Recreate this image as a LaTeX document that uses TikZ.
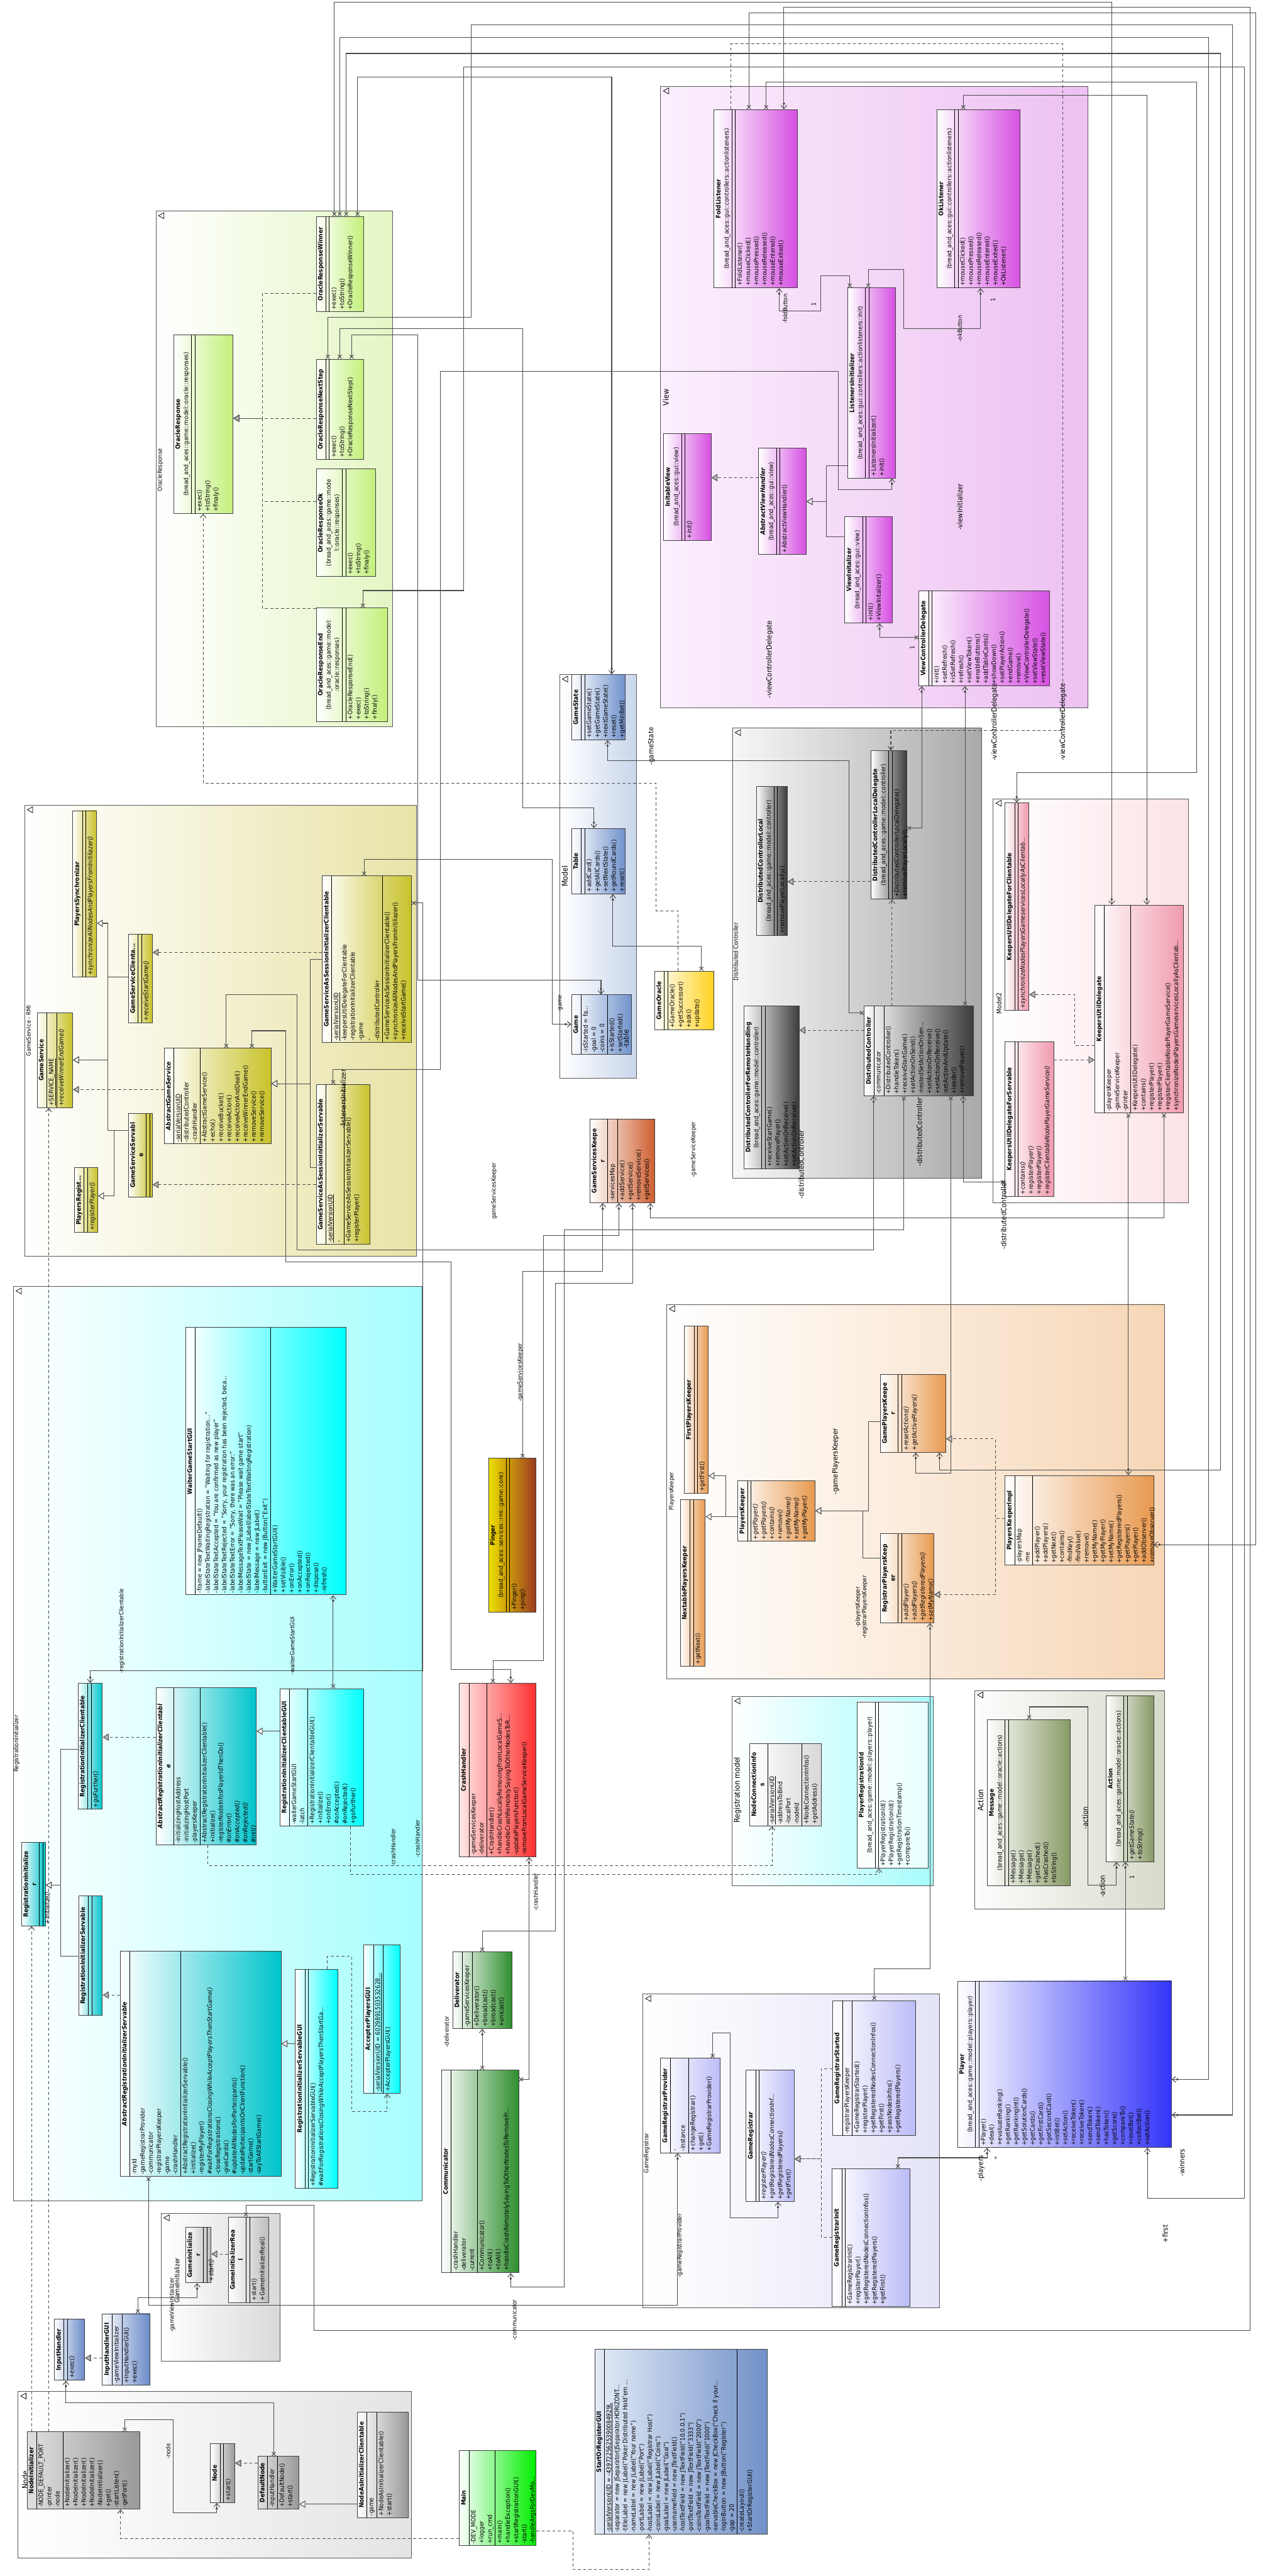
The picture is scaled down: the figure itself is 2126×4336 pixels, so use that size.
\documentclass[tikz,border=0pt]{standalone}
\usepackage{fontspec}
\setmainfont{DejaVu Sans}[FakeStretch=0.9]
\usepackage{graphicx}
\usetikzlibrary{arrows.meta}

\definecolor{orgreen}{HTML}{C2F07A}
\definecolor{orpkg}{HTML}{E4F6C4}
\definecolor{viewmag}{HTML}{D650E2}
\definecolor{viewpkgL}{HTML}{FBEFFD}
\definecolor{viewpkgR}{HTML}{EDC1F2}
\definecolor{modelblue}{HTML}{7092CC}
\definecolor{modelpkg}{HTML}{C9D6EB}
\definecolor{gsolive}{HTML}{C8C22A}
\definecolor{gspkg}{HTML}{E8E3A6}
\definecolor{dcdark}{HTML}{3C3C3C}
\definecolor{dcpkg}{HTML}{A9A9A9}
\definecolor{m2pink}{HTML}{F09AAD}
\definecolor{m2pkg}{HTML}{FCE2E6}
\definecolor{riteal}{HTML}{00C4CC}
\definecolor{ricyan}{HTML}{00FFFF}
\definecolor{ripkg}{HTML}{A6FEFE}
\definecolor{pkorange}{HTML}{E8994F}
\definecolor{pkpkg}{HTML}{F6D6B6}
\definecolor{rmpkg}{HTML}{A6FCFC}
\definecolor{rmgray}{HTML}{D8D8D8}
\definecolor{rmlight}{HTML}{E6FFFF}
\definecolor{actolive}{HTML}{889A66}
\definecolor{actpkg}{HTML}{D6DACA}
\definecolor{grlav}{HTML}{BCBCF8}
\definecolor{grpkg}{HTML}{E4E4F8}
\definecolor{plblue}{HTML}{3434FA}
\definecolor{gipkg}{HTML}{D9D9D9}
\definecolor{gigray}{HTML}{BDBDBD}
\definecolor{nodegray}{HTML}{999999}
\definecolor{nodepkg}{HTML}{E4E4E4}
\definecolor{maingreen}{HTML}{00EE00}
\definecolor{sorblue}{HTML}{7191C8}
\definecolor{sorlight}{HTML}{E4EBF7}
\definecolor{comgreen}{HTML}{2E8E2E}
\definecolor{crashred}{HTML}{FF3030}
\definecolor{pingyel}{HTML}{EEE000}
\definecolor{pingbrown}{HTML}{9B3A20}
\definecolor{gskbrown}{HTML}{CE5F30}
\definecolor{oracleyel}{HTML}{FFD21F}
\definecolor{ihblue}{HTML}{6A8AC8}

% class compartments, written upright and turned a quarter turn
\newcommand{\hdr}[1]{\hbox to\hsize{\hss\strut\textbf{#1}\hss}}
\newcommand{\hdri}[1]{\hbox to\hsize{\hss\strut\textbf{\textit{#1}}\hss}}
\newcommand{\pkl}[1]{\hbox to\hsize{\hss\strut #1\hss}}
\newcommand{\mem}[1]{\hbox to\hsize{\hskip3pt\strut #1\hss}}
\newcommand{\memi}[1]{\mem{\textit{#1}}}
\newcommand{\noatt}{\kern3pt}
\newcommand{\clsbox}[5]{\rotatebox{90}{\vbox to #2pt{\hsize=#1pt\relax\kern1pt#3\kern1pt\hrule height .8pt\kern1pt#4\kern1pt\hrule height .8pt\kern1pt#5\vss}}}

\begin{document}
\begin{tikzpicture}[x=1pt, y=-1pt,
  cls/.style={draw=black!75, line width=1pt, inner sep=0pt, anchor=north west,
              font=\fontsize{10.5}{13.8}\selectfont, left color=white, right color=#1},
  pkg/.style={draw=black!65, line width=.9pt, inner sep=0pt, anchor=north west},
  pkglbl/.style={rotate=90, font=\fontsize{10}{12}\selectfont, inner sep=1pt},
  biglbl/.style={rotate=90, font=\fontsize{13}{15}\selectfont, inner sep=1pt},
  lbl/.style={rotate=90, font=\fontsize{10}{12}\selectfont, inner sep=1pt},
  conn/.style={draw=black!70, line width=1.1pt},
  assoc/.style={conn, {Rays[n=4,length=9pt]}-{Circle[length=4pt] Straight Barb[length=6pt,width=10pt]}},
  gen/.style={conn, -{Triangle[length=10pt,width=12pt,fill=white]}},
  real/.style={conn, dash pattern=on 5pt off 4pt, -{Triangle[length=10pt,width=12pt,fill=gray!55]}},
  dep/.style={conn, dash pattern=on 5pt off 4pt, -{Straight Barb[length=6pt,width=10pt]}}
]
\fill[white] (0,0) rectangle (2126,4336);
\useasboundingbox (0,0) rectangle (2126,4336);

% packages
\node[pkg, minimum width=399, minimum height=868, left color=white, right color=orpkg] (pOR) at (262,355) {};
\node[pkg, minimum width=719, minimum height=1046, left color=viewpkgL, right color=viewpkgR] (pView) at (1112,145) {};
\node[pkg, minimum width=129, minimum height=679, left color=white, right color=modelpkg] (pModel) at (942,1135) {};
\node[pkg, minimum width=660, minimum height=759, left color=white, right color=gspkg] (pGS) at (41,1355) {};
\node[pkg, minimum width=419, minimum height=758, left color=white!97!black, right color=dcpkg] (pDC) at (1233,1225) {};
\node[pkg, minimum width=329, minimum height=680, left color=white, right color=m2pkg] (pM2) at (1672,1344) {};
\node[pkg, minimum width=688, minimum height=1539, left color=white, right color=ripkg] (pRI) at (22,2165) {};
\node[pkg, minimum width=839, minimum height=630, left color=white, right color=pkpkg] (pPK) at (1122,2195) {};
\node[pkg, minimum width=339, minimum height=319, left color=white, right color=rmpkg] (pRM) at (1232,2855) {};
\node[pkg, minimum width=320, minimum height=368, left color=white!95!actpkg, right color=actpkg] (pAct) at (1641,2845) {};
\node[pkg, minimum width=499, minimum height=528, left color=white, right color=grpkg] (pGR) at (1082,3356) {};
\node[pkg, minimum width=200, minimum height=249, left color=white, right color=gipkg] (pGI) at (271,3725) {};
\node[pkg, minimum width=662, minimum height=280, left color=white, right color=nodepkg] (pNode) at (30,4025) {};
\foreach \p in {pOR,pView,pModel,pGS,pDC,pM2,pRI,pPK,pRM,pAct,pGR,pGI,pNode}
  \draw[line width=.8pt] ([shift={(5pt,-8pt)}]\p.north west) -- ++(9,-5) -- ++(0,10) -- cycle;

\node[pkglbl] at (270,791) {OracleResponse};
\node[biglbl] at (1121,669) {View};
\node[biglbl] at (951,1475) {Model};
\node[pkglbl] at (48,1735) {GameService - RMI};
\node[pkglbl] at (1239,1602) {Distributed Controller};
\node[pkglbl, font=\fontsize{11}{13}\selectfont] at (1682,1689) {Model2};
\node[pkglbl] at (28,2935) {RegistrationInitializer};
\node[pkglbl] at (1131,2510) {PlayersKeeper};
\node[biglbl] at (1242,3013) {Registration model};
\node[biglbl] at (1651,3030) {Action};
\node[pkglbl] at (1089,3624) {GameRegistrar};
\node[pkglbl, font=\fontsize{11}{13}\selectfont] at (298,3838) {GameInitializer};
\node[biglbl] at (42,4174) {Node};

% OracleResponse
\node[cls=orgreen] (orwin) at (532,364) {\clsbox{160}{80}{\hdr{OracleResponseWinner}}{\noatt}{\mem{+exec()}\mem{+toString()}\mem{+OracleResponseWinner()}}};
\node[cls=orgreen] (orbase) at (292,563) {\clsbox{301}{100}{\hdr{OracleResponse}\pkl{(bread\_and\_aces::game::model::oracle::responses)}}{\noatt}{\mem{+exec()}\mem{+toString()}\mem{+finaly()}}};
\node[cls=orgreen] (ornext) at (532,604) {\clsbox{169}{80}{\hdr{OracleResponseNextStep}}{\noatt}{\mem{+exec()}\mem{+toString()}\mem{+OracleResponseNextStep()}}};
\node[cls=orgreen] (orok) at (532,789) {\clsbox{181}{100}{\hdr{OracleResponseOk}\pkl{(bread\_and\_aces::game::mode}\pkl{l::oracle::responses)}}{\noatt}{\mem{+exec()}\mem{+toString()}\mem{+finaly()}}};
\node[cls=orgreen] (orend) at (532,1023) {\clsbox{191}{120}{\hdr{OracleResponseEnd}\pkl{(bread\_and\_aces::game::model:}\pkl{:oracle::responses)}}{\noatt}{\mem{+OracleResponseEnd()}\mem{+exec()}\mem{+toString()}\mem{+finaly()}}};

% View
\node[cls=viewmag] (fold) at (1202,184) {\clsbox{300}{140}{\hdr{FoldListener}\pkl{(bread\_and\_aces::gui::controllers::actionlisteners)}}{\noatt}{\mem{+FoldListener()}\mem{+mouseClicked()}\mem{+mousePressed()}\mem{+mouseReleased()}\mem{+mouseEntered()}\mem{+mouseExited()}}};
\node[cls=viewmag] (okl) at (1577,184) {\clsbox{300}{140}{\hdr{OkListener}\pkl{(bread\_and\_aces::gui::controllers::actionlisteners)}}{\noatt}{\mem{+mouseClicked()}\mem{+mousePressed()}\mem{+mouseReleased()}\mem{+mouseEntered()}\mem{+mouseExited()}\mem{+OkListener()}}};
\node[cls=viewmag] (linit) at (1427,484) {\clsbox{320}{80}{\hdr{ListenersInitializer}\pkl{(bread\_and\_aces::gui::controllers::actionlisteners::init)}}{\noatt}{\mem{+ListenersInitializer()}\mem{+init()}}};
\node[cls=viewmag] (initv) at (1117,729) {\clsbox{180}{80}{\hdr{InitableView}\pkl{(bread\_and\_aces::gui::view)}}{\noatt}{\memi{+init()}}};
\node[cls=viewmag] (avh) at (1277,754) {\clsbox{179}{80}{\hdri{AbstractViewHandler}\pkl{(bread\_and\_aces::gui::view)}}{\noatt}{\mem{+AbstractViewHandler()}}};
\node[cls=viewmag] (vinit) at (1422,869) {\clsbox{179}{80}{\hdr{ViewInitalizer}\pkl{(bread\_and\_aces::gui::view)}}{\noatt}{\mem{+init()}\mem{+ViewInitalizer()}}};
\node[cls=viewmag] (vcd) at (1547,994) {\clsbox{160}{220}{\hdr{ViewControllerDelegate}}{\noatt}{\mem{+init()}\mem{+setRefresh()}\mem{+isSetRefresh()}\mem{+refresh()}\mem{+setViewToken()}\mem{+enableButtons()}\mem{+addTableCards()}\mem{+showDown()}\mem{+setPlayerAction()}\mem{+endGame()}\mem{+remove()}\mem{+ViewControllerDelegate()}\mem{+setViewState()}\mem{+resetViewState()}}};

% Model
\node[cls=modelblue] (gstate) at (962,1135) {\clsbox{110}{90}{\hdr{GameState}}{\noatt}{\mem{+setGameState()}\mem{+getGameState()}\mem{+nextGameState()}\mem{+reset()}\mem{+getMinBet()}}};
\node[cls=modelblue] (table) at (962,1394) {\clsbox{110}{90}{\hdr{Table}}{\noatt}{\mem{+addCard()}\mem{+getAllCards()}\mem{+setNextState()}\mem{+getRoundCards()}\mem{+reset()}}};
\node[cls=modelblue] (game) at (962,1674) {\clsbox{100}{101}{\hdr{Game}}{\mem{-isStarted = fa...}\mem{-goal = 0}\mem{-coins = 0}}{\mem{+isStarted()}\mem{+setStarted()}}};
\node[cls=oracleyel] (goracle) at (1102,1634) {\clsbox{99}{100}{\hdr{GameOracle}}{\noatt}{\mem{+GameOracle()}\mem{+getSuccessor()}\mem{+ask()}\mem{+update()}}};
\node[cls=gskbrown] (gsk) at (993,1883) {\clsbox{141}{109}{\hdr{GameServicesKeepe}\hdr{r}}{\mem{-servicesMap}}{\mem{+addService()}\mem{+getService()}\mem{+removeService()}\mem{+getServices()}}};

% Distributed Controller
\node[cls=dcdark] (dclocal) at (1273,1323) {\clsbox{251}{52}{\hdr{DistributedControllerLocal}\pkl{(bread\_and\_aces::game::model::controller)}}{\noatt}{\mem{+removePlayerLocally()}}};
\node[cls=dcdark] (dcld) at (1466,1263) {\clsbox{250}{60}{\hdr{DistributedControllerLocalDelegate}\pkl{(bread\_and\_aces::game::model::controller)}}{\noatt}{\mem{+DistributedControllerLocalDelegate()}\mem{+removePlayerLocally()}}};
\node[cls=dcdark] (dcrh) at (1252,1693) {\clsbox{274}{93}{\hdr{DistributedControllerForRemoteHandling}\pkl{(bread\_and\_aces::game::model::controller)}}{\noatt}{\mem{+receiveStartGame()}\mem{+removePlayer()}\mem{+setActionOnReceive()}\mem{+setActionOnReceive()}}};
\node[cls=dcdark] (dctrl) at (1455,1693) {\clsbox{151}{184}{\hdr{DistributedController}}{\mem{-communicator}}{\mem{+DistributedController()}\mem{+handleToken()}\mem{+receiveStartGame()}\mem{+setActionOnSend()}\mem{-nestedSetActionOnSen...}\mem{+setActionOnReceive()}\mem{+setActionOnReceive()}\mem{-setActionAndUpdate()}\mem{+leader()}\mem{+removePlayer()}}};

% Model2
\node[cls=m2pink] (kudc) at (1692,1351) {\clsbox{349}{40}{\hdr{KeepersUtilDelegateForClientable}}{\noatt}{\memi{+synchronizeNodesPlayersGameservicesLocallyAsClientab...}}};
\node[cls=m2pink] (kuds) at (1692,1753) {\clsbox{260}{82}{\hdr{KeepersUtilDelegateForServable}}{\noatt}{\memi{+contains()}\memi{+registerPlayer()}\memi{+registerPlayer()}\memi{+registerClientableNodePlayerGameService()}}};
\node[cls=m2pink] (kud) at (1843,1523) {\clsbox{350}{149}{\hdr{KeepersUtilDelegate}}{\mem{-playersKeeper}\mem{-gameServiceKeeper}\mem{-printer}}{\mem{+KeepersUtilDelegate()}\mem{+contains()}\mem{+registerPlayer()}\mem{+registerPlayer()}\mem{+registerClientableNodePlayerGameService()}\mem{+synchronizeNodesPlayersGameservicesLocallyAsClientab...}}};

% GameService - RMI
\node[cls=gsolive] (psync) at (122,1364) {\clsbox{280}{40}{\hdr{PlayersSynchronizar}}{\noatt}{\memi{+synchronizeAllNodesAndPlayersFromInitiliazer()}}};
\node[cls=gsolive] (gsvc) at (62,1704) {\clsbox{160}{60}{\hdr{GameService}}{\mem{\underline{+SERVICE\_NAME}}}{\memi{+receiveWinnerEndGame()}}};
\node[cls=gsolive] (gscl) at (216,1572) {\clsbox{149}{40}{\hdr{GameServiceClienta...}}{\noatt}{\memi{+receiveStartGame()}}};
\node[cls=gsolive] (ags) at (276,1764) {\clsbox{161}{180}{\hdri{AbstractGameService}}{\mem{\underline{-serialVersionUID}}\mem{-distributedController}\mem{-crashHandler}}{\mem{+AbstractGameService()}\mem{+echo()}\mem{+receiveBucket()}\mem{+receiveAction()}\mem{+receiveActionAndDeal()}\mem{+receiveWinnerEndGame()}\mem{+removeService()}\mem{+removeService()}}};
\node[cls=gsolive] (gssv) at (216,1874) {\clsbox{140}{40}{\hdr{GameServiceServabl}\hdr{e}}{\noatt}{\noatt}};
\node[cls=gsolive] (preg) at (125,1965) {\clsbox{109}{39}{\hdr{PlayersRegist...}}{\noatt}{\memi{+registerPlayer()}}};
\node[cls=gsolive] (gsasic) at (542,1474) {\clsbox{280}{150}{\hdr{GameServiceAsSessionInitializerClientable}}{\mem{\underline{-serialVersionUID}}\mem{-keepersUtilDelegateForClientable}\mem{-registrationInitializerClientable}\mem{-game}\mem{-}\mem{-distributedController}}{\mem{+GameServiceAsSessionInitializerClientable()}\mem{+synchronizeAllNodesAndPlayersFromInitiliazer()}\mem{+receiveStartGame()}}};
\node[cls=gsolive] (gsasis) at (532,1825) {\clsbox{269}{90}{\hdr{GameServiceAsSessionInitializerServable}}{\mem{\underline{-serialVersionUID}}\mem{-}}{\mem{+GameServiceAsSessionInitializerServable()}\mem{+registerPlayer()}}};

\node[cls=pingbrown, left color=pingyel] (pinger) at (822,2454) {\clsbox{259}{80}{\hdr{Pinger}\pkl{(bread\_and\_aces::services::rmi::game::core)}}{\noatt}{\mem{+Pinger()}\mem{+ping()}}};
\node[cls=crashred, left color=crashred!12] (crash) at (773,2833) {\clsbox{292}{129}{\hdr{CrashHandler}}{\mem{-gameServicesKeeper}\mem{-deliverator}}{\mem{+CrashHandler()}\mem{+handleCrashLocallyRemovingFromLocalGameS...}\mem{+handleCrashRemotelySayingToOtherNodesToR...}\mem{-updatePlayersFunctor()}\mem{-removeFromLocalGameServiceKeeper()}}};

% RegistrationInitializer
\node[cls=ricyan] (wgsg) at (312,2234) {\clsbox{450}{270}{\hdr{WaiterGameStartGUI}}{\mem{-frame = new JFrameDefault()}\mem{-labelStateTextWaitingRegistration = "Waiting for registration..."}\mem{-labelStateTextAccepted = "You are confirmed as new player"}\mem{-labelStateTextRejected = "Sorry, your registration has been rejected, beca...}\mem{-labelStateTextError = "Sorry, there was an error:"}\mem{-labelMessageTextPleaseWait = "Please wait game start"}\mem{-labelState = new JLabel(labelStateTextWaitingRegistration)}\mem{-labelMessage = new JLabel()}\mem{-buttonExit = new JButton("Exit")}}{\mem{+WaiterGameStartGUI()}\mem{+setVisible()}\mem{+onError()}\mem{+onAccepted()}\mem{+onRejected()}\mem{+dispose()}\mem{-refresh()}}};
\node[cls=riteal] (ric) at (131,2833) {\clsbox{212}{41}{\hdr{RegistrationInitializerClientable}}{\noatt}{\memi{+goFurther()}}};
\node[cls=riteal] (aric) at (262,2840) {\clsbox{265}{169}{\hdri{AbstractRegistrationInitializerClientabl}\hdri{e}}{\mem{-initializingHostAddress}\mem{-initializingHostPort}\mem{-playersKeeper}}{\mem{+AbstractRegistrationInitializerClientable()}\mem{+initialize()}\mem{-registerNodeInfosPlayerIdThenDo()}\memi{\#onError()}\memi{\#onAccepted()}\memi{\#onRejected()}\memi{\#init()}}};
\node[cls=ricyan] (ricg) at (471,2842) {\clsbox{231}{141}{\hdr{RegistrationInitializerClientableGUI}}{\mem{-waiterGameStartGUI}\mem{-latch}}{\mem{+RegistrationInitializerClientableGUI()}\mem{+initialize()}\mem{+onError()}\mem{\#onAccepted()}\mem{\#onRejected()}\mem{+goFurther()}}};
\node[cls=riteal] (rinit) at (36,3101) {\clsbox{140}{40}{\hdr{RegistrationInitialize}\hdr{r}}{\noatt}{\memi{+initialize()}}};
\node[cls=riteal] (ris) at (132,3191) {\clsbox{201}{40}{\hdr{RegistrationInitializerServable}}{\noatt}{\noatt}};
\node[cls=riteal] (aris) at (202,3284) {\clsbox{379}{271}{\hdri{AbstractRegistrationInitializerServable}}{\mem{-myId}\mem{-gameRegistrarProvider}\mem{-communicator}\mem{-registrarPlayersKeeper}\mem{-game}\mem{-crashHandler}}{\mem{+AbstractRegistrationInitializerServable()}\mem{+initialize()}\mem{-registerMyPlayer()}\memi{\#waitForRegistrationsClosingWhileAcceptPlayersThenStartGame()}\mem{-closeRegistrations()}\mem{-giveCards()}\mem{\#updateAllNodesForPartecipants()}\mem{-updatePartecipantsOnClientFunction()}\mem{-startGame()}\mem{-sayToAllStartGame()}}};
\node[cls=ricyan] (risg) at (497,3314) {\clsbox{369}{71}{\hdr{RegistrationInitializerServableGUI}}{\noatt}{\mem{+RegistrationInitializerServableGUI()}\memi{\#waitForRegistrationsClosingWhileAcceptPlayersThenStartGa...}}};
\node[cls=ricyan] (apg) at (612,3273) {\clsbox{250}{61}{\hdr{AccepterPlayersGUI}}{\mem{\underline{-serialVersionUID = 6029891503532628...}}}{\mem{+AccepterPlayersGUI()}}};

\node[cls=comgreen] (deliv) at (762,3285) {\clsbox{129}{100}{\hdr{Deliverator}}{\mem{-gameServicesKeeper}}{\mem{+Deliverator()}\mem{+broadcast()}\mem{+broadcast()}\mem{+unicast()}}};
\node[cls=comgreen] (comm) at (743,3484) {\clsbox{341}{130}{\hdr{Communicator}}{\mem{-crashHandler}\mem{-deliverator}\mem{-current}}{\mem{+Communicator()}\mem{+toAll()}\mem{+toAll()}\mem{+handleCrashRemotelySayingToOtherNodesToRemoveFr...}}};

% PlayersKeeper
\node[cls=pkorange] (fpk) at (1152,2232) {\clsbox{281}{40}{\hdr{FirstPlayersKeeper}}{\noatt}{\mem{+getFirst()}}};
\node[cls=pkorange] (npk) at (1145,2524) {\clsbox{280}{42}{\hdr{NextablePlayersKeeper}}{\noatt}{\mem{+getNext()}}};
\node[cls=pkorange] (pk) at (1242,2492) {\clsbox{102}{130}{\hdr{PlayersKeeper}}{\noatt}{\memi{+getPlayer()}\memi{+getPlayers()}\memi{+contains()}\memi{+remove()}\memi{+getMyName()}\memi{+setMyName()}\memi{+getMyPlayer()}}};
\node[cls=pkorange] (gpk) at (1482,2313) {\clsbox{131}{110}{\hdr{GamePlayersKeepe}\hdr{r}}{\noatt}{\memi{+resetActions()}\memi{+getActivePlayers()}}};
\node[cls=pkorange] (rpk) at (1482,2581) {\clsbox{150}{90}{\hdr{RegistrarPlayersKeep}\hdr{er}}{\noatt}{\memi{+addPlayer()}\memi{+addPlayers()}\memi{+getRegisteredPlayers()}\memi{+setMyName()}}};
\node[cls=pkorange] (pki) at (1692,2483) {\clsbox{151}{250}{\hdr{PlayersKeeperImpl}}{\mem{-playersMap}\mem{-me}}{\mem{+addPlayer()}\mem{+addPlayers()}\mem{+getNext()}\mem{+contains()}\mem{-findKey()}\mem{-findValue()}\mem{+remove()}\mem{+getMyName()}\mem{+getMyPlayer()}\mem{+setMyName()}\mem{+getRegisteredPlayers()}\mem{+getPlayers()}\mem{+getPlayer()}\mem{+addObserver()}\mem{+removeObserver()}}};

% Registration model, Action
\node[cls=rmgray] (nci) at (1262,2934) {\clsbox{139}{120}{\hdr{NodeConnectionInfo}\hdr{s}}{\mem{\underline{-serialVersionUID}}\mem{-addressToBind}\mem{-localPort}\mem{-nodeId}}{\mem{+NodeConnectionInfos()}\mem{+getAddress()}}};
\node[cls=rmlight] (pri) at (1443,2864) {\clsbox{280}{119}{\hdr{PlayerRegistrationId}\pkl{(bread\_and\_aces::game::model::players::player)}}{\noatt}{\mem{+PlayerRegistrationId()}\mem{+PlayerRegistrationId()}\mem{+getRegistrationTimestamp()}\mem{+compareTo()}}};
\node[cls=actolive] (msg) at (1662,2894) {\clsbox{280}{140}{\hdr{Message}\pkl{(bread\_and\_aces::game::model::oracle::actions)}}{\noatt}{\mem{+Message()}\mem{+Message()}\mem{+Message()}\mem{+getCrashed()}\mem{+hasCrashed()}\mem{+toString()}}};
\node[cls=actolive] (act) at (1862,2854) {\clsbox{279}{80}{\hdr{Action}\pkl{(bread\_and\_aces::game::model::oracle::actions)}}{\noatt}{\memi{+getGameState()}\memi{+toString()}}};

% GameRegistrar, Player
\node[cls=grlav] (grp) at (1112,3464) {\clsbox{159}{100}{\hdr{GameRegistrarProvider}}{\mem{-}\mem{-instance}}{\mem{+changeRegistrar()}\mem{+get()}\mem{+GameRegistrarProvider()}}};
\node[cls=grlav] (gr) at (1256,3484) {\clsbox{221}{81}{\hdr{GameRegistrar}}{\noatt}{\memi{+registerPlayer()}\memi{+getRegisteredNodesConnectionInf...}\memi{+getRegisteredPlayers()}\memi{+getFirst()}}};
\node[cls=grlav] (grs) at (1402,3367) {\clsbox{227}{139}{\hdr{GameRegistrarStarted}}{\mem{-registrarPlayersKeeper}}{\mem{+GameRegistrarStarted()}\mem{+registerPlayer()}\mem{+getRegisteredNodesConnectionInfos()}\mem{+getFirst()}\mem{+passNodesInfos()}\mem{+getRegisteredPlayers()}}};
\node[cls=grlav] (gri) at (1401,3650) {\clsbox{232}{131}{\hdr{GameRegistrarInit}}{\noatt}{\mem{+GameRegistrarInit()}\mem{+registerPlayer()}\mem{+getRegisteredNodesConnectionInfos()}\mem{+getRegisteredPlayers()}\mem{+getFirst()}}};
\node[cls=plblue] (player) at (1612,3334) {\clsbox{280}{360}{\hdr{Player}\pkl{(bread\_and\_aces::game::model::players::player)}}{\noatt}{\mem{+Player()}\mem{+deal()}\mem{+evaluateRanking()}\mem{+getRanking()}\mem{+getRankingInt()}\mem{+getSolutionCards()}\mem{+getCards()}\mem{+getFirstCard()}\mem{+getSecondCard()}\mem{+initBet()}\mem{+setAction()}\mem{+receiveToken()}\mem{+receiveToken()}\mem{+sendToken()}\mem{+sendToken()}\mem{+hasToken()}\mem{+getScore()}\mem{+compareTo()}\mem{+resetBet()}\mem{+collectBet()}\mem{+setAction()}}};

% GameInitializer, input, Node
\node[cls=gigray] (gi) at (312,3748) {\clsbox{94}{43}{\hdr{GameInitialize}\hdr{r}}{\noatt}{\memi{+start()}}};
\node[cls=gigray] (gir) at (384,3731) {\clsbox{144}{68}{\hdr{GameInitializerRea}\hdr{l}}{\noatt}{\mem{+start()}\mem{+GameInitializerReal()}}};
\node[cls=ihblue] (ih) at (91,3903) {\clsbox{103}{51}{\hdr{InputHandler}}{\noatt}{\memi{+exec()}}};
\node[cls=ihblue] (ihg) at (172,3894) {\clsbox{120}{80}{\hdr{InputHandlerGUI}}{\mem{-gameViewInitializer}}{\mem{+InputHandlerGUI()}\mem{+exec()}}};
\node[cls=nodegray, left color=gray!25] (ni) at (45,4093) {\clsbox{130}{190}{\hdr{NodeInitializer}}{\mem{-NODE\_DEFAULT\_PORT}\mem{-printer}\mem{-node}}{\mem{+NodeInitializer()}\mem{+NodeInitializer()}\mem{+NodeInitializer()}\mem{+NodeInitializer()}\mem{-NodeInitializer()}\mem{+get()}\mem{-startListen()}\mem{-getPort()}}};
\node[cls=nodegray] (nd) at (354,4113) {\clsbox{99}{41}{\hdr{Node}}{\noatt}{\memi{+start()}}};
\node[cls=nodegray, left color=gray!25] (dn) at (434,4134) {\clsbox{89}{69}{\hdr{DefaultNode}}{\mem{-inputHandler}}{\mem{+DefaultNode()}\mem{+start()}}};
\node[cls=nodegray] (naic) at (601,4060) {\clsbox{177}{86}{\hdr{NodeAsInitializerClientable}}{\mem{-game}}{\mem{+NodeAsInitializerClientable()}\mem{+start()}}};
\node[cls=maingreen] (main) at (773,4124) {\clsbox{160}{129}{\hdr{Main}}{\mem{-DEV\_MODE}\mem{+logger}\mem{+run\_cmd}}{\mem{+main()}\mem{+handleException()}\mem{+startRegistrationGUI()}\mem{-start()}\mem{-handleArgsForDevMo...}}};
\node[cls=sorblue, left color=sorlight] (sor) at (1001,3954) {\clsbox{311}{290}{\hdr{StartOrRegisterGUI}}{\mem{\underline{-serialVersionUID = -4397225625390084929L}}\mem{-separator = new JSeparator(JSeparator.HORIZONT...}\mem{-titleLabel = new JLabel("Poker Distributed Hold'em ...}\mem{-nameLabel = new JLabel("Your name")}\mem{-portLabel = new JLabel("Port")}\mem{-hostLabel = new JLabel("Registrar Host")}\mem{-coinsLabel = new JLabel("Coins")}\mem{-goalLabel = new JLabel("Goal")}\mem{-usernameField = new JTextField()}\mem{-hostTextField = new JTextField("10.0.0.1")}\mem{-portTextField = new JTextField("3333")}\mem{-coinsTextField = new JTextField("2000")}\mem{-goalTextField = new JTextField("1000")}\mem{-servableCheckBox = new JCheckBox("Check if your...}\mem{-loginButton = new JButton("Register")}\mem{-gap = 20}}{\mem{-createLayout()}\mem{+StartOrRegisterGUI()}}};

% connectors: View
\draw[assoc] (1431,0 |- linit.north) -- (1431,464) -- (1382,464) -- (1382,523) -- (1312,523) -- (1312,0 |- fold.south);
\draw[assoc] (1462,0 |- linit.north) -- (1462,454) -- (1522,454) -- (1522,553) -- (1651,553) -- (1651,0 |- okl.south);
\draw[real] (avh.west |- 0,804) -- (initv.east |- 0,804);
\draw[gen] (vinit.west |- 0,904) -- (1392,904) -- (1392,844) -- (avh.east |- 0,844);
\draw[gen] (linit.west |- 0,784) -- (1392,784) -- (1392,844) -- (avh.east |- 0,844);
\draw[assoc] (vcd.west |- 0,1073) -- (1481,1073) -- (1481,0 |- vinit.south);
\draw[assoc] (561,0 |- gsasis.north) -- (561,1800) -- (742,1800) -- (742,625) -- (1412,625) -- (1412,824) -- (1502,824) -- (1502,0 |- linit.south);
\draw[dep] (1231,0 |- fold.north) -- (1231,74) -- (1790,74) -- (1790,1230) -- (1500,1230) -- (1500,0 |- dcld.north);

% OracleResponse
\draw[real] (orwin.west |- 0,494) -- (442,494) -- (442,704) -- (orbase.east |- 0,704);
\draw[real] (ornext.west |- 0,704) -- (orbase.east |- 0,704);
\draw[real] (orok.west |- 0,844) -- (442,844) -- (442,704) -- (orbase.east |- 0,704);
\draw[real] (orend.west |- 0,1024) -- (442,1024) -- (442,704) -- (orbase.east |- 0,704);
\draw[dep] (1142,0 |- goracle.north) -- (1142,1533) -- (1105,1533) -- (1105,1318) -- (342,1318) -- (342,0 |- orbase.south);

% long lines round the top and down the right side
\draw[assoc] (563,0 |- orwin.north) -- (563,4) -- (1872,4) -- (1872,0 |- kud.north);
\draw[assoc] (572,0 |- orwin.north) -- (572,63) -- (2035,63) -- (2035,3500) -- (player.east |- 0,3500);
\draw[assoc] (583,0 |- orwin.north) -- (583,90) -- (2055,90) -- (2055,2474) -- (1582,2474) -- (1582,0 |- gpk.south);
\draw[assoc] (602,0 |- orwin.north) -- (602,130) -- (1030,130) -- (1030,0 |- gstate.north);
\draw[assoc] (552,0 |- ornext.north) -- (552,534) -- (793,534) -- (793,42) -- (2075,42) -- (2075,3560) -- (player.east |- 0,3560);
\draw[assoc] (572,0 |- ornext.north) -- (572,553) -- (880,553) -- (880,1360) -- (1000,1360) -- (1000,0 |- table.north);
\draw[assoc] (592,0 |- ornext.north) -- (592,564) -- (703,564) -- (703,1650) -- (1012,1650) -- (1012,0 |- game.north);
\draw[assoc] (611,0 |- orend.north) -- (611,994) -- (781,994) -- (781,113) -- (2095,113) -- (2095,3700) -- (1932,3700) -- (1932,0 |- player.south);
\draw[assoc] (1261,0 |- fold.north) -- (1261,22) -- (2115,22) -- (2115,2600) -- (pki.east |- 0,2600);
\draw[assoc] (1290,0 |- fold.north) -- (1290,138) -- (2015,138) -- (2015,1300) -- (1712,1300) -- (1712,0 |- kudc.north);
\draw[assoc] (1622,0 |- okl.north) -- (1622,160) -- (1931,160) -- (1931,0 |- kud.north);
\draw[assoc] (414,0 |- gir.north) -- (414,3712) -- (529,3712) -- (529,3923) -- (2105,3923) -- (2105,12) -- (1320,12) -- (1320,0 |- fold.north);

% Model, controller
\draw[assoc] (dctrl.west |- 0,1705) -- (1430,1705) -- (1430,1280) -- (1023,1280) -- (1023,0 |- gstate.south);
\draw[assoc] (1181,0 |- goracle.north) -- (1181,1593) -- (1032,1593) -- (1032,0 |- table.south);
\draw[assoc] (613,0 |- gsasic.north) -- (613,1447) -- (930,1447) -- (930,1724) -- (game.west |- 0,1724);
\draw[real] (dcld.west |- 0,1484) -- (dclocal.east |- 0,1484);
\draw[real] (dctrl.west |- 0,1734) -- (dcrh.east |- 0,1734);
\draw[dep] (1502,0 |- dctrl.north) -- (1502,0 |- dcld.south);
\draw[assoc] (dcld.east |- 0,1394) -- (1552,1394) -- (1552,0 |- vcd.south);
\draw[assoc] (1625,0 |- dctrl.north) -- (1625,0 |- vcd.south);
\draw[assoc] (kuds.west |- 0,1990) -- (1622,1990) -- (1622,0 |- dctrl.south);
\draw[assoc] (1522,0 |- dctrl.south) -- (1522,2070) -- (950,2070) -- (950,3850) -- (860,3850) -- (860,0 |- comm.south);
\draw[assoc] (1601,0 |- dctrl.south) -- (1601,2480) -- (1542,2480) -- (1542,0 |- gpk.south);
\draw[real] (kuds.east |- 0,1784) -- (1843,1784);
\draw[real] (kud.west |- 0,1760) -- (1810,1760) -- (1810,1674) -- (kudc.east |- 0,1674);
\draw[assoc] (1900,0 |- kud.south) -- (1900,0 |- pki.north);
\draw[assoc] (1960,0 |- kud.south) -- (1960,2050) -- (1095,2050) -- (1095,0 |- gsk.south);

% GameService - RMI
\draw[real] (ags.west |- 0,1834) -- (gsvc.east |- 0,1834);
\draw[gen] (gscl.west |- 0,1644) -- (182,1644) -- (182,1554) -- (psync.east |- 0,1554);
\draw[gen] (gscl.west |- 0,1644) -- (182,1644) -- (182,1784) -- (gsvc.east |- 0,1784);
\draw[gen] (gssv.west |- 0,1903) -- (182,1903) -- (182,1784) -- (gsvc.east |- 0,1784);
\draw[gen] (gssv.west |- 0,1903) -- (192,1903) -- (192,2013) -- (preg.east |- 0,2013);
\draw[real] (gsasic.west |- 0,1603) -- (gscl.east |- 0,1603);
\draw[real] (gsasis.west |- 0,1994) -- (gssv.east |- 0,1994);
\draw[gen] (gsasic.west |- 0,1615) -- (522,1615) -- (522,1824) -- (ags.east |- 0,1824);
\draw[gen] (gsasis.west |- 0,1965) -- (522,1965) -- (522,1824) -- (ags.east |- 0,1824);
\draw[dep] (82,0 |- ni.north) -- (82,0 |- gsvc.south);
\draw[dep] (53,0 |- ni.north) -- (53,0 |- rinit.south);
\draw[assoc] (381,0 |- ags.north) -- (381,1674) -- (500,1674) -- (500,2104) -- (1471,2104) -- (1471,0 |- dctrl.south);
\draw[assoc] (424,0 |- ags.north) -- (424,1735) -- (481,1735) -- (481,2124) -- (760,2124) -- (760,2810) -- (860,2810) -- (860,0 |- crash.north);

% services keeper users
\draw[assoc] (880,0 |- pinger.north) -- (880,2140) -- (1015,2140) -- (1015,0 |- gsk.south);
\draw[assoc] (830,0 |- crash.north) -- (830,2795) -- (915,2795) -- (915,2080) -- (1042,2080) -- (1042,0 |- gsk.south);
\draw[assoc] (812,0 |- deliv.north) -- (812,3250) -- (935,3250) -- (935,2160) -- (1065,2160) -- (1065,0 |- gsk.south);
\draw[assoc] (comm.east |- 0,3500) -- (891,3500) -- (891,0 |- crash.south);
\draw[assoc] (812,0 |- comm.north) -- (812,0 |- deliv.south);

% RegistrationInitializer
\draw[real] (aric.west |- 0,2924) -- (ric.east |- 0,2924);
\draw[gen] (ricg.west |- 0,2914) -- (aric.east |- 0,2914);
\draw[assoc] (561,0 |- ricg.north) -- (561,0 |- wgsg.south);
\draw[gen] (ric.west |- 0,2944) -- (102,2944) -- (102,3173) -- (rinit.east |- 0,3173);
\draw[gen] (ris.west |- 0,3293) -- (102,3293) -- (102,3173) -- (rinit.east |- 0,3173);
\draw[real] (aris.west |- 0,3358) -- (ris.east |- 0,3358);
\draw[gen] (risg.west |- 0,3440) -- (aris.east |- 0,3440);
\draw[dep] (551,0 |- risg.north) -- (551,3293) -- (592,3293) -- (592,3554) -- (652,3554) -- (652,0 |- apg.south);
\draw[assoc] (gsasic.east |- 0,1520) -- (712,1520) -- (712,2812) -- (152,2812) -- (152,0 |- ric.north);
\draw[assoc] (250,0 |- aris.south) -- (250,3880) -- (1141,3880) -- (1141,0 |- grp.south);
\draw[dep] (350,0 |- aric.south) -- (350,3140) -- (1300,3140) -- (1300,0 |- nci.south);
\draw[dep] (590,0 |- ricg.south) -- (590,3155) -- (1480,3155) -- (1480,0 |- pri.south);

% PlayersKeeper
\draw[gen] (pk.west |- 0,2553) -- (npk.east |- 0,2553);
\draw[gen] (pk.west |- 0,2553) -- (1222,2553) -- (1222,2484) -- (fpk.east |- 0,2484);
\draw[gen] (gpk.west |- 0,2393) -- (1462,2393) -- (1462,2543) -- (pk.east |- 0,2543);
\draw[gen] (rpk.west |- 0,2623) -- (1453,2623) -- (1453,2543) -- (pk.east |- 0,2543);
\draw[real] (pki.west |- 0,2556) -- (1676,2556) -- (1676,2422) -- (gpk.east |- 0,2422);
\draw[real] (pki.west |- 0,2556) -- (1676,2556) -- (1676,2684) -- (rpk.east |- 0,2684);
\draw[assoc] (1472,0 |- grs.north) -- (1472,3314) -- (1566,3314) -- (1566,0 |- rpk.south);

% GameRegistrar, Action, Player
\draw[real] (grs.west |- 0,3482) -- (1383,3482) -- (1383,3634) -- (gr.east |- 0,3634);
\draw[real] (gri.west |- 0,3766) -- (1383,3766) -- (1383,3634) -- (gr.east |- 0,3634);
\draw[assoc] (1200,0 |- grp.north) -- (1200,3422) -- (1230,3422) -- (1230,3733) -- (1310,3733) -- (1310,0 |- gr.south);
\draw[assoc] (1895,0 |- player.north) -- (1895,0 |- act.south);
\draw[assoc] (1733,0 |- msg.north) -- (1733,2873) -- (1832,2873) -- (1832,3173) -- (1880,3173) -- (1880,0 |- act.south);
\draw[assoc] (1512,0 |- gri.north) -- (1512,3632) -- (1662,3632) -- (1662,0 |- player.south);

% GameInitializer, Node
\draw[real] (gir.west |- 0,3794) -- (gi.east |- 0,3794);
\draw[real] (ihg.west |- 0,3969) -- (ih.east |- 0,3969);
\draw[assoc] (232,0 |- ihg.north) -- (232,3868) -- (332,3868) -- (332,0 |- gi.south);
\draw[assoc] (461,0 |- dn.north) -- (461,4044) -- (111,4044) -- (111,0 |- ih.south);
\draw[assoc] (210,0 |- ni.north) -- (210,4073) -- (292,4073) -- (292,4230) -- (365,4230) -- (365,0 |- nd.south);
\draw[real] (dn.west |- 0,4146) -- (nd.east |- 0,4146);
\draw[gen] (naic.west |- 0,4215) -- (dn.east |- 0,4215);
\draw[dep] (main.west |- 0,4273) -- (203,4273) -- (203,0 |- ni.south);
\draw[dep] (main.east |- 0,4260) -- (965,4260) -- (965,4325) -- (1093,4325) -- (1093,0 |- sor.south);

% role names and multiplicities
\node[lbl] at (1322,520) {-foldButton};
\node[lbl] at (1370,512) {1};
\node[lbl] at (1616,553) {-okButton};
\node[lbl] at (1672,505) {1};
\node[lbl, font=\fontsize{12}{14}\selectfont] at (1616,853) {-viewInitializer};
\node[lbl, font=\fontsize{12}{14}\selectfont] at (1296,1110) {-viewControllerDelegate};
\node[lbl, font=\fontsize{12}{14}\selectfont] at (1675,1215) {-viewControllerDelegate};
\node[lbl, font=\fontsize{12}{14}\selectfont] at (1790,1215) {-viewControllerDelegate};
\node[lbl] at (1536,1090) {1};
\node[lbl, font=\fontsize{12}{14}\selectfont] at (1097,1256) {-gameState};
\node[lbl] at (944,1689) {-game};
\node[lbl, font=\fontsize{12}{14}\selectfont] at (1054,1749) {-table};
\node[lbl] at (832,2005) {gameServicesKeeper};
\node[lbl] at (1168,1935) {-gameServiceKeeper};
\node[lbl] at (876,2310) {-gameServicesKeeper};
\node[lbl, font=\fontsize{12}{14}\selectfont] at (1349,1960) {-distributedController};
\node[lbl, font=\fontsize{12}{14}\selectfont] at (1548,1905) {-distributedController};
\node[lbl, font=\fontsize{12}{14}\selectfont] at (1690,2045) {-distributedController};
\node[lbl, font=\fontsize{12}{14}\selectfont] at (578,1850) {-listenersInitializer};
\node[lbl] at (205,2745) {-registrationInitializerClientable};
\node[lbl] at (492,2770) {-waiterGameStartGUI};
\node[lbl] at (662,3110) {-crashHandler};
\node[lbl] at (703,3095) {-crashHandler};
\node[lbl] at (902,3185) {-crashHandler};
\node[lbl] at (752,3420) {-deliverator};
\node[lbl] at (866,3905) {-communicator};
\node[lbl, font=\fontsize{12}{14}\selectfont] at (1407,2460) {-gamePlayersKeeper};
\node[lbl] at (1445,2705) {-playersKeeper};
\node[lbl] at (1456,2705) {-registrarPlayersKeeper};
\node[lbl] at (1145,3780) {-gameRegistrarProvider};
\node[lbl, font=\fontsize{12}{14}\selectfont] at (1827,3060) {-action};
\node[lbl, font=\fontsize{12}{14}\selectfont] at (1856,3175) {-action};
\node[lbl] at (1906,3160) {1};
\node[lbl, font=\fontsize{12}{14}\selectfont] at (1990,3640) {-winners};
\node[lbl, font=\fontsize{12}{14}\selectfont] at (1962,3760) {+first};
\node[lbl, font=\fontsize{12}{14}\selectfont] at (1652,3650) {-players};
\node[lbl] at (1678,3632) {*};
\node[lbl] at (283,4126) {-node};
\node[lbl] at (290,3880) {-gameViewInitializer};
\end{tikzpicture}
\end{document}
